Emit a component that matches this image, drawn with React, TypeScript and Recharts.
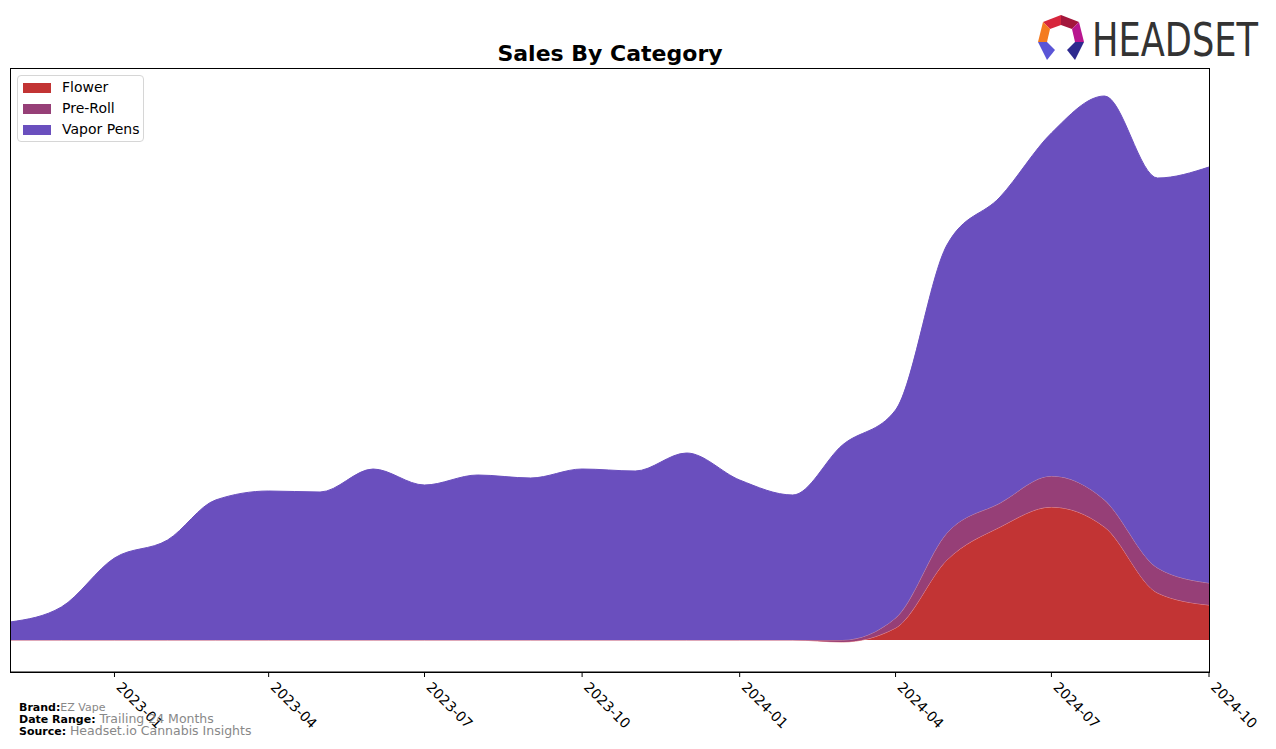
import React from 'react';
import { Area, AreaChart, XAxis, YAxis } from 'recharts';

const months = [
  '2022-11', '2022-12', '2023-01', '2023-02', '2023-03', '2023-04',
  '2023-05', '2023-06', '2023-07', '2023-08', '2023-09', '2023-10',
  '2023-11', '2023-12', '2024-01', '2024-02', '2024-03', '2024-04',
  '2024-05', '2024-06', '2024-07', '2024-08', '2024-09', '2024-10',
];

const flower = [0, 0, 0, 0, 0, 0, 0, 0, 0, 0, 0, 0, 0, 0, 0, 0, -2, 12, 80, 113, 133, 113, 47, 35];
const preRoll = [0, 0, 0, 0, 0, 0, 0, 0, 0, 0, 0, 0, 0, 0, 0, 0, 2, 10, 27, 24, 31, 27, 25, 22];
const vaporPens = [18, 33, 82, 100, 140, 149, 148, 171, 155, 165, 162, 171, 169, 187, 160, 145, 195, 208, 288, 306, 343, 404, 390, 416];

const tickLabels = ['2023-01', '2023-04', '2023-07', '2023-10', '2024-01', '2024-04', '2024-07', '2024-10'];

const toTs = (m: string) => {
  const [y, mo] = m.split('-').map(Number);
  return Date.UTC(y, mo - 1, 1);
};

const fmtTs = (ts: number) => {
  const d = new Date(ts);
  return `${d.getUTCFullYear()}-${String(d.getUTCMonth() + 1).padStart(2, '0')}`;
};

const data = months.map((m, i) => ({
  t: toTs(m),
  flower: flower[i],
  preRoll: preRoll[i],
  vaporPens: vaporPens[i],
}));

const xTicks = tickLabels.map(toTs);
const tMin = toTs(months[0]);
const tMax = toTs(months[months.length - 1]);

const FONT = '"DejaVu Sans", sans-serif';

const colors = {
  flower: '#c23434',
  preRoll: '#963f77',
  vaporPens: '#6a4fbe',
};

const legendItems = [
  { name: 'Flower', color: colors.flower },
  { name: 'Pre-Roll', color: colors.preRoll },
  { name: 'Vapor Pens', color: colors.vaporPens },
];

function AngledTick(props: any) {
  const { x, y, payload } = props;
  return (
    <text
      transform={`translate(${x + 1},${y + 9}) rotate(45)`}
      fontSize={14}
      fontFamily={FONT}
      fill="#000"
      textAnchor="start"
    >
      {fmtTs(payload.value)}
    </text>
  );
}

function Logo() {
  return (
    <g>
      <polygon points="1043,22 1061,15 1061,25 1050,29" fill="#d7263d" />
      <polygon points="1061,15 1079,22 1072,29 1061,25" fill="#a3173c" />
      <polygon points="1079,22 1084,42 1075,42 1072,29" fill="#b8168f" />
      <polygon points="1043,22 1050,29 1047,42 1038,42" fill="#f47b20" />
      <polygon points="1038,42 1047,42 1055,50 1047,60" fill="#5a55d6" />
      <polygon points="1084,42 1075,42 1067,50 1075,60" fill="#2e2a8f" />
      <text
        transform="translate(1092,56) scale(1,1.2)"
        fontSize={38}
        fontFamily='"DejaVu Sans Condensed", "Liberation Sans Narrow", sans-serif'
        fill="#333"
        textLength={166}
        lengthAdjust="spacingAndGlyphs"
      >
        HEADSET
      </text>
    </g>
  );
}

export default function App() {
  return (
    <div style={{ position: 'absolute', left: 0, top: 0, width: 1276, height: 749, background: '#fff' }}>
      <AreaChart
        width={1276}
        height={749}
        data={data}
        margin={{ top: 68, right: 67, left: 10, bottom: 17 }}
      >
        <XAxis
          dataKey="t"
          type="number"
          domain={[tMin, tMax]}
          ticks={xTicks}
          height={60}
          tickSize={5}
          tick={<AngledTick />}
          tickLine={{ stroke: '#000' }}
          axisLine={{ stroke: '#000' }}
          interval={0}
        />
        <YAxis domain={[-32, 572]} hide allowDataOverflow />
        <Area
          type="monotone"
          dataKey="flower"
          stackId="1"
          fill={colors.flower}
          fillOpacity={1}
          stroke="#e98f95"
          strokeWidth={1}
          isAnimationActive={false}
        />
        <Area
          type="monotone"
          dataKey="preRoll"
          stackId="1"
          fill={colors.preRoll}
          fillOpacity={1}
          stroke="#c78aa8"
          strokeWidth={1}
          isAnimationActive={false}
        />
        <Area
          type="monotone"
          dataKey="vaporPens"
          stackId="1"
          fill={colors.vaporPens}
          fillOpacity={1}
          stroke={colors.vaporPens}
          strokeWidth={1}
          isAnimationActive={false}
        />
      </AreaChart>

      <div
        style={{
          position: 'absolute',
          left: 17,
          top: 75,
          width: 125,
          height: 65,
          border: '1px solid #d6d6d6',
          borderRadius: 4,
          background: 'rgba(255,255,255,0.8)',
          fontFamily: FONT,
          fontSize: 14,
        }}
      >
        {legendItems.map((it, i) => (
          <div key={it.name} style={{ position: 'absolute', left: 0, top: 4 + i * 21, height: 16, width: 125 }}>
            <div style={{ position: 'absolute', left: 5, top: 3, width: 28, height: 10, background: it.color }} />
            <div style={{ position: 'absolute', left: 44, top: -1, lineHeight: '17px', color: '#000', whiteSpace: 'nowrap' }}>
              {it.name}
            </div>
          </div>
        ))}
      </div>

      <svg
        width={1276}
        height={749}
        style={{ position: 'absolute', left: 0, top: 0, pointerEvents: 'none' }}
      >
        <rect x={10.5} y={68.5} width={1199} height={604} fill="none" stroke="#000" strokeWidth={1} />
        <text x={610} y={61} textAnchor="middle" fontFamily={FONT} fontWeight="bold" fontSize={22} fill="#000">
          Sales By Category
        </text>
        <Logo />
        <text x={19} y={711} fontFamily={FONT} fontSize={11}>
          <tspan fontWeight="bold" fill="#000">Brand:</tspan>
          <tspan fill="#888" fontSize={11}>EZ Vape</tspan>
        </text>
        <text x={19} y={723} fontFamily={FONT} fontSize={11}>
          <tspan fontWeight="bold" fill="#000">Date Range: </tspan>
          <tspan fill="#888" fontSize={12.5}>Trailing 24 Months</tspan>
        </text>
        <text x={19} y={735} fontFamily={FONT} fontSize={11}>
          <tspan fontWeight="bold" fill="#000">Source: </tspan>
          <tspan fill="#888" fontSize={12.5}>Headset.io Cannabis Insights</tspan>
        </text>
      </svg>
    </div>
  );
}
